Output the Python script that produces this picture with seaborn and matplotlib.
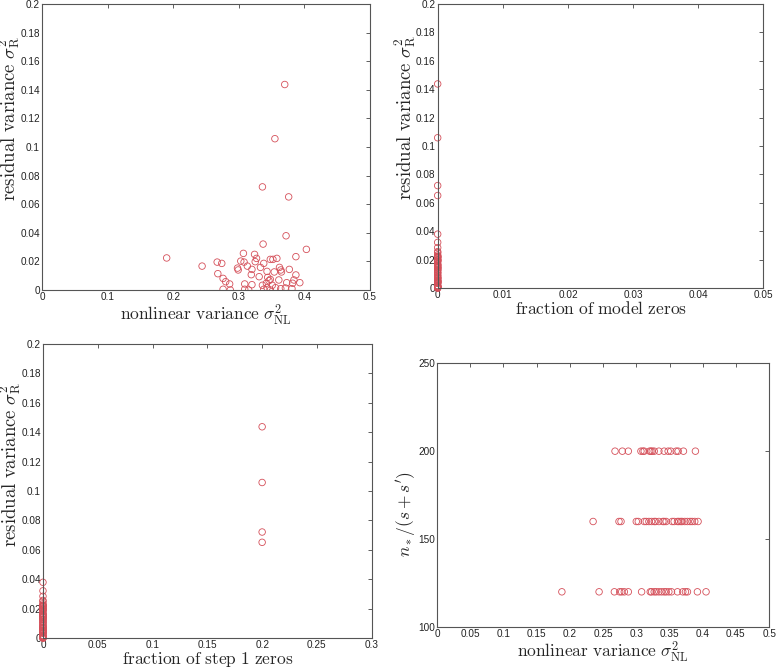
import numpy as np
import pandas as pd
import matplotlib
matplotlib.use('Agg')
import matplotlib.pyplot as plt
import seaborn as sns
from matplotlib.ticker import FuncFormatter, MultipleLocator

# residual variance vs nonlinear variance (top-left panel)
nl_var = [0.370, 0.355, 0.336, 0.376, 0.337, 0.372, 0.403, 0.387, 0.307, 0.324,
          0.327, 0.358, 0.348, 0.352, 0.338, 0.244, 0.267, 0.274, 0.303, 0.308,
          0.298, 0.299, 0.313, 0.325, 0.320, 0.333, 0.343, 0.362, 0.364, 0.365,
          0.377, 0.354, 0.268, 0.319, 0.387, 0.331, 0.276, 0.280, 0.286, 0.309,
          0.320, 0.344, 0.348, 0.346, 0.361, 0.342, 0.336, 0.351, 0.373, 0.382,
          0.393, 0.384, 0.276, 0.287, 0.309, 0.315, 0.343, 0.348, 0.364, 0.371,
          0.381, 0.338, 0.356, 0.190]
resid_var = [0.1437, 0.1058, 0.0721, 0.0651, 0.0321, 0.0379, 0.0284, 0.0233, 0.0256, 0.0249,
             0.0221, 0.0221, 0.0214, 0.0214, 0.0186, 0.0167, 0.0195, 0.0186, 0.0202, 0.0195,
             0.0153, 0.0140, 0.0167, 0.0198, 0.0144, 0.0158, 0.0130, 0.0158, 0.0140, 0.0126,
             0.0144, 0.0126, 0.0114, 0.0107, 0.0105, 0.0093, 0.0081, 0.0058, 0.0042, 0.0042,
             0.0037, 0.0088, 0.0074, 0.0065, 0.0070, 0.0047, 0.0033, 0.0033, 0.0051, 0.0047,
             0.0051, 0.0070, 0.0005, 0.0000, 0.0005, 0.0000, 0.0016, 0.0000, 0.0009, 0.0014,
             0.0009, 0.0005, 0.0016, 0.0224]

# fraction of model zeros (all zero) and fraction of step 1 zeros
model_zeros = [0.0] * len(resid_var)
step1_zeros = [0.2, 0.2, 0.2, 0.2] + [0.0] * (len(resid_var) - 4)

# bottom-right panel: n_*/(s+s') levels
nl_200 = [0.268, 0.279, 0.288, 0.307, 0.310, 0.312, 0.320, 0.322, 0.324, 0.327,
          0.334, 0.342, 0.348, 0.352, 0.360, 0.363, 0.371, 0.389]
nl_160 = [0.235, 0.274, 0.277, 0.300, 0.303, 0.312, 0.315, 0.319, 0.323, 0.327,
          0.329, 0.334, 0.340, 0.342, 0.345, 0.354, 0.357, 0.362, 0.364, 0.367,
          0.369, 0.373, 0.377, 0.381, 0.384, 0.388, 0.393]
nl_120 = [0.188, 0.244, 0.267, 0.275, 0.278, 0.282, 0.288, 0.308, 0.321, 0.323,
          0.327, 0.330, 0.334, 0.338, 0.342, 0.345, 0.349, 0.353, 0.362, 0.370,
          0.374, 0.377, 0.392, 0.405]

df_main = pd.DataFrame({'nl': nl_var, 'resid': resid_var,
                        'model': model_zeros, 'step1': step1_zeros})
df_n = pd.DataFrame({'nl': nl_200 + nl_160 + nl_120,
                     'n': [200] * len(nl_200) + [160] * len(nl_160) + [120] * len(nl_120)})

sns.set_style('white')
plt.rcParams['mathtext.fontset'] = 'cm'
plt.rcParams['font.family'] = ['Liberation Sans', 'DejaVu Sans']

fig = plt.figure(figsize=(7.77, 6.68), dpi=100)

def fmt(v, pos):
    return '%g' % round(v, 4)

mk = dict(marker='o', s=22, facecolor='none', edgecolor='#d5505a', linewidth=0.6)

def style(ax, xmax, xstep, ymin, ymax, ystep):
    ax.set_xlim(0, xmax)
    ax.set_ylim(ymin, ymax)
    ax.xaxis.set_major_locator(MultipleLocator(xstep))
    ax.yaxis.set_major_locator(MultipleLocator(ystep))
    ax.xaxis.set_major_formatter(FuncFormatter(fmt))
    ax.yaxis.set_major_formatter(FuncFormatter(fmt))
    ax.tick_params(direction='in', length=3, width=0.6, labelsize=7.2, pad=1.5,
                   top=True, right=True, colors='#444444', labelcolor='#222222')
    for sp in ax.spines.values():
        sp.set_color('#555555')
        sp.set_linewidth(0.8)

lab = 12.5
ylab = 13.5
xl_nl = r'$\mathrm{nonlinear\ variance}\ \sigma^2_{\mathrm{NL}}$'
yl_res = r'$\mathrm{residual\ variance}\ \sigma^2_{\mathrm{R}}$'

# top-left
ax1 = fig.add_axes([0.0541, 0.5659, 0.4221, 0.4281])
sns.scatterplot(data=df_main, x='nl', y='resid', ax=ax1, **mk)
style(ax1, 0.5, 0.1, 0, 0.2, 0.02)
ax1.set_xlabel(xl_nl, fontsize=lab, labelpad=0)
ax1.set_ylabel(yl_res, fontsize=ylab)
ax1.yaxis.set_label_coords(-0.06, 0.6)

# top-right
ax2 = fig.add_axes([0.5633, 0.5689, 0.4191, 0.4251])
sns.scatterplot(data=df_main, x='model', y='resid', ax=ax2, clip_on=False, **mk)
style(ax2, 0.05, 0.01, 0, 0.2, 0.02)
ax2.set_xlabel(r'$\mathrm{fraction\ of\ model\ zeros}$', fontsize=lab, labelpad=0)
ax2.set_ylabel(yl_res, fontsize=ylab)
ax2.yaxis.set_label_coords(-0.06, 0.6)

# bottom-left
ax3 = fig.add_axes([0.0553, 0.0449, 0.4231, 0.4401])
sns.scatterplot(data=df_main, x='step1', y='resid', ax=ax3, clip_on=False, **mk)
style(ax3, 0.3, 0.05, 0, 0.2, 0.02)
ax3.set_xlabel(r'$\mathrm{fraction\ of\ step\ 1\ zeros}$', fontsize=lab, labelpad=0)
ax3.set_ylabel(yl_res, fontsize=ylab)
ax3.yaxis.set_label_coords(-0.06, 0.59)

# bottom-right
ax4 = fig.add_axes([0.5624, 0.0614, 0.4275, 0.3948])
sns.scatterplot(data=df_n, x='nl', y='n', ax=ax4, **mk)
style(ax4, 0.5, 0.05, 100, 250, 50)
ax4.set_xlabel(xl_nl, fontsize=lab, labelpad=0)
ax4.set_ylabel(r'$n_*/(s+s^\prime)$', fontsize=lab)
ax4.yaxis.set_label_coords(-0.058, 0.43)

fig.savefig('out.png', dpi=100)
